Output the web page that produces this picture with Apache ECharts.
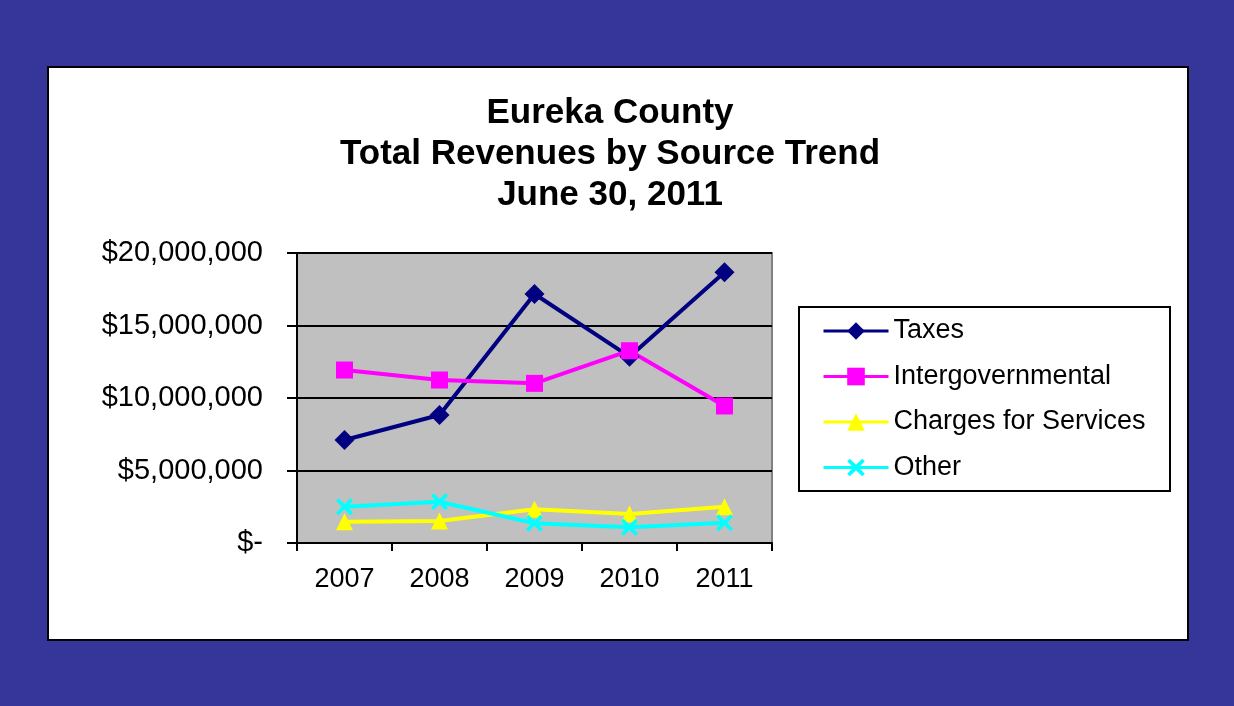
<!DOCTYPE html>
<html>
<head>
<meta charset="utf-8">
<script src="https://cdn.jsdelivr.net/npm/echarts@6/dist/echarts.min.js"></script>
<style>
html,body{margin:0;padding:0;background:#35359A;}
#chart{width:1234px;height:706px;}
</style>
</head>
<body>
<div id="chart"></div>
<script>
var titleLines = ['Eureka County', 'Total Revenues by Source Trend', 'June 30, 2011'];
var categories = ['2007', '2008', '2009', '2010', '2011'];
var seriesNames = ['Taxes', 'Intergovernmental', 'Charges for Services', 'Other'];
var taxes = [7100000, 8830000, 17170000, 12850000, 18670000];
var intergovernmental = [11930000, 11240000, 11010000, 13260000, 9450000];
var chargesForServices = [1470000, 1520000, 2320000, 2000000, 2500000];
var other = [2500000, 2850000, 1360000, 1080000, 1400000];
var yTicks = [0, 5000000, 10000000, 15000000, 20000000];

var chart = echarts.init(document.getElementById('chart'));
var font = 'Liberation Sans, Arial, sans-serif';
var xShape = 'path://M0,1.5 L1.5,0 L5,3.5 L8.5,0 L10,1.5 L6.5,5 L10,8.5 L8.5,10 L5,6.5 L1.5,10 L0,8.5 L3.5,5 Z';

function fmt(v) {
  if (v === 0) return '$-';
  return '$' + String(v).replace(/\B(?=(\d{3})+(?!\d))/g, ',');
}

function mkSeries(name, data, color, symbol, size) {
  return {
    name: name, type: 'line', data: data,
    symbol: symbol, symbolSize: size,
    lineStyle: {color: color, width: 4},
    itemStyle: {color: color, borderColor: color, borderWidth: 0},
    emphasis: {disabled: true},
    animation: false
  };
}

chart.setOption({
  animation: false,
  backgroundColor: '#35359A',
  graphic: [
    {type: 'rect', shape: {x: 48, y: 67, width: 1140, height: 573},
     style: {fill: '#FFFFFF', stroke: '#000000', lineWidth: 2}, z: -10},
    {type: 'rect', shape: {x: 799, y: 307, width: 371, height: 184},
     style: {fill: '#FFFFFF', stroke: '#000000', lineWidth: 2}, z: 0}
  ],
  title: {
    text: titleLines.join('\n'),
    left: 605, top: 88, textAlign: 'center',
    textStyle: {fontFamily: font, fontSize: 35, fontWeight: 'bold', color: '#000', lineHeight: 41}
  },
  legend: {
    orient: 'vertical', left: 822, top: 316, padding: 0,
    itemWidth: 65, itemHeight: 22, itemGap: 15.5,
    data: seriesNames,
    lineStyle: {width: 3},
    textStyle: {fontFamily: font, fontSize: 27, color: '#000', lineHeight: 30},
    z: 5
  },
  grid: {
    left: 297, top: 253, right: 1234 - 772, bottom: 706 - 543,
    show: true, backgroundColor: '#C0C0C0', borderColor: '#808080', borderWidth: 2,
    containLabel: false
  },
  xAxis: {
    type: 'category', data: categories, boundaryGap: true,
    axisLine: {lineStyle: {color: '#000', width: 2}},
    axisTick: {show: true, interval: 0, length: 8, lineStyle: {color: '#000', width: 2}},
    axisLabel: {fontFamily: font, fontSize: 27, color: '#000', margin: 23}
  },
  yAxis: {
    type: 'value', min: yTicks[0], max: yTicks[yTicks.length - 1], interval: yTicks[1] - yTicks[0],
    axisLine: {show: true, lineStyle: {color: '#000', width: 2}},
    axisTick: {show: true, length: 10, lineStyle: {color: '#000', width: 2}},
    splitLine: {show: true, lineStyle: {color: '#000', width: 2}},
    axisLabel: {fontFamily: font, fontSize: 29, color: '#000', margin: 34, formatter: fmt}
  },
  series: [
    mkSeries(seriesNames[0], taxes, '#000080', 'diamond', 20),
    mkSeries(seriesNames[1], intergovernmental, '#FF00FF', 'rect', 17),
    mkSeries(seriesNames[2], chargesForServices, '#FFFF00', 'triangle', 17),
    mkSeries(seriesNames[3], other, '#00FFFF', xShape, 17)
  ]
});
</script>
</body>
</html>
